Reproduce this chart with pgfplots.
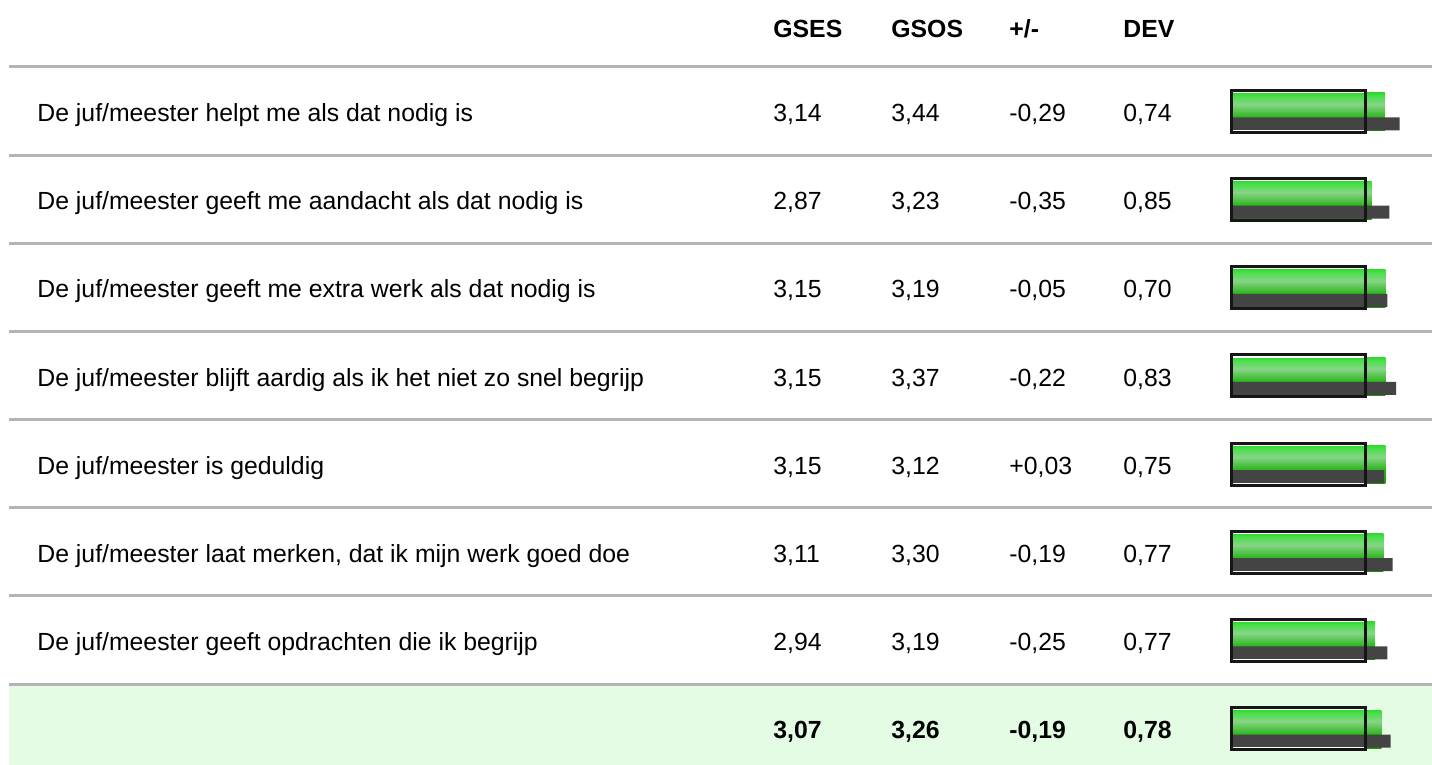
\documentclass[border=0pt]{standalone}
\usepackage{fontspec}
\setmainfont{Liberation Sans}
\usepackage{pgfplots}
\pgfplotsset{compat=1.18}
\definecolor{band}{HTML}{E3FCE3}
\definecolor{rulec}{HTML}{B4B4B4}
\definecolor{g0}{HTML}{30DA30}
\definecolor{g1}{HTML}{4AE04A}
\definecolor{g2}{HTML}{88D488}
\definecolor{g3}{HTML}{22B411}
\definecolor{g4}{HTML}{169800}
\definecolor{dk}{HTML}{444444}
\definecolor{fr}{HTML}{161616}
\pgfdeclareverticalshading{gbar}{100bp}{color(0bp)=(g4); color(25bp)=(g4); color(42bp)=(g3); color(60bp)=(g2); color(71bp)=(g1); color(75bp)=(g0); color(100bp)=(g0)}
\pgfplotsset{gbarstyle/.style={xbar, bar width=38, bar shift=-0.5, draw=none, shading=gbar}}
\newcommand\rowtext[6]{%
  \node at (37,-#1-10.2) {#2};
  \node at (773,-#1-10.2) {#3};
  \node at (891,-#1-10.2) {#4};
  \node at (1009,-#1-10.2) {#5};
  \node at (1123,-#1-10.2) {#6};}
\begin{document}
\begin{tikzpicture}[x=0.5pt,y=0.5pt,every node/.style={font=\fontsize{12.4pt}{14pt}\selectfont, inner sep=0pt, anchor=base west}]
\path[use as bounding box, fill=white] (0,0) rectangle (1432,-765);
\fill[band] (9,-685.5) rectangle (1432,-765);
\foreach \yy in {67,155.1,243.3,331.4,419.6,507.7,595.8,684}
  \draw[rulec, line width=1.5pt] (9,-\yy) -- (1432,-\yy);
\node at (773,-37.7) {\bfseries GSES};
\node at (891,-37.7) {\bfseries GSOS};
\node at (1009,-37.7) {\bfseries +/-};
\node at (1123,-37.7) {\bfseries DEV};
\rowtext{111.5}{De juf/meester helpt me als dat nodig is}{3,14}{3,44}{-0,29}{0,74}
\rowtext{199.6}{De juf/meester geeft me aandacht als dat nodig is}{2,87}{3,23}{-0,35}{0,85}
\rowtext{287.8}{De juf/meester geeft me extra werk als dat nodig is}{3,15}{3,19}{-0,05}{0,70}
\rowtext{375.9}{De juf/meester blijft aardig als ik het niet zo snel begrijp}{3,15}{3,37}{-0,22}{0,83}
\rowtext{464.1}{De juf/meester is geduldig}{3,15}{3,12}{+0,03}{0,75}
\rowtext{552.2}{De juf/meester laat merken, dat ik mijn werk goed doe}{3,11}{3,30}{-0,19}{0,77}
\rowtext{640.3}{De juf/meester geeft opdrachten die ik begrijp}{2,94}{3,19}{-0,25}{0,77}
\rowtext{728.5}{}{\bfseries 3,07}{\bfseries 3,26}{\bfseries -0,19}{\bfseries 0,78}
\begin{axis}[at={(615.5pt,-382.5pt)}, anchor=south west, x=24.5pt, y=0.5pt,
  xmin=0, xmax=4.1, ymin=-765, ymax=0, hide axis, clip=false]
% GSES (green), one plot per row so that each bar gets its own shading
\addplot[gbarstyle] coordinates {(3.14,-111.5)};
\addplot[gbarstyle] coordinates {(2.87,-199.6)};
\addplot[gbarstyle] coordinates {(3.15,-287.8)};
\addplot[gbarstyle] coordinates {(3.15,-375.9)};
\addplot[gbarstyle] coordinates {(3.15,-464.1)};
\addplot[gbarstyle] coordinates {(3.11,-552.2)};
\addplot[gbarstyle] coordinates {(2.94,-640.3)};
\addplot[gbarstyle] coordinates {(3.07,-728.5)};
% GSOS (dark)
\addplot[xbar, bar width=13, bar shift=-12.5, draw=none, fill=dk] coordinates {
 (3.44,-111.5) (3.23,-199.6) (3.19,-287.8) (3.37,-375.9) (3.12,-464.1) (3.30,-552.2) (3.19,-640.3) (3.26,-728.5)};
% frame
\addplot[xbar, bar width=38.3, bar shift=-0.3, draw=white, line width=0.5pt, fill=none] coordinates {
 (2.75,-111.5) (2.75,-199.6) (2.75,-287.8) (2.75,-375.9) (2.75,-464.1) (2.75,-552.2) (2.75,-640.3) (2.75,-728.5)};
\addplot[xbar, bar width=42, bar shift=0, draw=fr, line width=1.5pt, fill=none] coordinates {
 (2.75,-111.5) (2.75,-199.6) (2.75,-287.8) (2.75,-375.9) (2.75,-464.1) (2.75,-552.2) (2.75,-640.3) (2.75,-728.5)};
\end{axis}
\end{tikzpicture}
\end{document}
